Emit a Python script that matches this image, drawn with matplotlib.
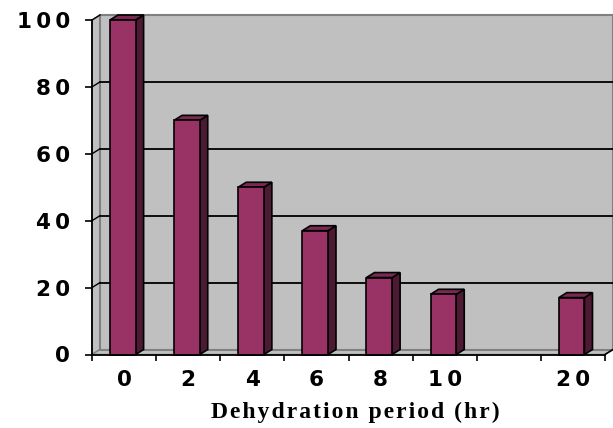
import matplotlib
matplotlib.use("Agg")
import matplotlib.pyplot as plt
from matplotlib.patches import Polygon, Rectangle

# Data
categories = ["0", "2", "4", "6", "8", "10", "", "20"]
values = [100, 70, 50, 37, 23, 18, None, 17]
y_ticks = [0, 20, 40, 60, 80, 100]
y_tick_labels = ["0", "20", "40", "60", "80", "100"]
x_label = "Dehydration period (hr)"

THIN = "\u2009"
HAIR = "\u200a"


def spaced(s, sep):
    return sep.join(s)


W, H, DPI = 613, 428, 100
fig = plt.figure(figsize=(W / DPI, H / DPI), dpi=DPI)
fig.patch.set_facecolor("white")

# front plane of the 3-D box (pixels)
left_px, right_px, bottom_px, top_px = 92, 605, 354.5, 20
ax = fig.add_axes([left_px / W, (H - bottom_px) / H,
                   (right_px - left_px) / W, (bottom_px - top_px) / H])
n = len(categories)
ax.set_xlim(0, n)
ax.set_ylim(0, 100)
ax.set_facecolor("none")

# depth offset, 8 px right and 5 px up, in data units
px_x = (right_px - left_px) / n
px_y = (bottom_px - top_px) / 100
dx = 8 / px_x
dy = 5 / px_y

wall = "#C0C0C0"
wall_edge = "#808080"

# left side wall
ax.add_patch(Polygon([(0, 0), (dx, dy), (dx, 100 + dy), (0, 100)],
                     closed=True, facecolor=wall, edgecolor=wall_edge,
                     lw=1.0, clip_on=False, zorder=1))
# floor
ax.add_patch(Polygon([(0, 0), (n, 0), (n + dx, dy), (dx, dy)],
                     closed=True, facecolor=wall, edgecolor=wall_edge,
                     lw=1.0, clip_on=False, zorder=1))
# back wall
ax.add_patch(Rectangle((dx, dy), n, 100, facecolor=wall,
                       edgecolor=wall_edge, lw=1.5, clip_on=False, zorder=1))

# gridlines on the back wall and their continuation on the side wall
for t in y_ticks[1:-1]:
    ax.plot([dx, n + dx], [t + dy, t + dy], color="black", lw=1.3,
            clip_on=False, zorder=2)
for t in y_ticks[1:]:
    ax.plot([0, dx], [t, t + dy], color="black", lw=1.0,
            clip_on=False, zorder=2)

# 3-D bars
front_c = "#993366"
side_c = "#4D1A33"
top_c = "#7A2952"
bar_left = 0.28
bar_w = 0.40
for i, v in enumerate(values):
    if v is None:
        continue
    x0 = i + bar_left
    x1 = x0 + bar_w
    ax.add_patch(Polygon([(x1, 0), (x1 + dx, dy), (x1 + dx, v + dy), (x1, v)],
                         closed=True, facecolor=side_c, edgecolor="black",
                         lw=1.2, clip_on=False, zorder=3))
    ax.add_patch(Polygon([(x0, v), (x1, v), (x1 + dx, v + dy), (x0 + dx, v + dy)],
                         closed=True, facecolor=top_c, edgecolor="black",
                         lw=1.2, clip_on=False, zorder=3))
    ax.add_patch(Rectangle((x0, 0), bar_w, v, facecolor=front_c,
                           edgecolor="black", lw=1.2, clip_on=False, zorder=4))

# right end of the floor edge
ax.plot([n, n + dx], [0, dy], color="black", lw=1.2, clip_on=False, zorder=5)

# axes lines
for s in ["top", "right"]:
    ax.spines[s].set_visible(False)
for s in ["left", "bottom"]:
    ax.spines[s].set_color("black")
    ax.spines[s].set_linewidth(1.3)
    ax.spines[s].set_zorder(5)

tick_font = dict(family="DejaVu Sans", weight="bold", size=15.5)

ax.set_yticks(y_ticks)
ax.set_yticklabels([spaced(t, THIN) for t in y_tick_labels], fontdict=tick_font)
ax.tick_params(axis="y", direction="out", length=5, width=1.2, pad=11,
               colors="black")

ax.set_xticks(range(n + 1))
ax.set_xticklabels([])
ax.tick_params(axis="x", which="major", direction="out", length=4,
               width=1.2, colors="black")
ax.set_xticks([i + 0.5 for i in range(n)], minor=True)
ax.set_xticklabels([spaced(c, THIN) for c in categories], minor=True,
                   fontdict=tick_font)
ax.tick_params(axis="x", which="minor", length=0, pad=11)

fig.text(355.5 / W, 1 - 412 / H, spaced(x_label, HAIR), ha="center",
         va="center", family="Liberation Serif", weight="bold", size=17)

fig.savefig("out.png", dpi=DPI)
